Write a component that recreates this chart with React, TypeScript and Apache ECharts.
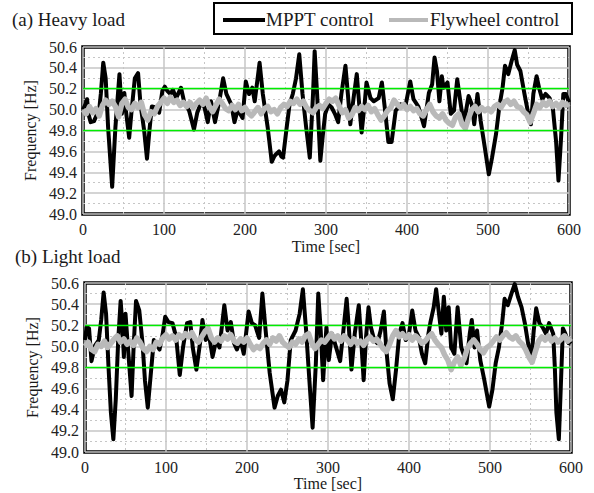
import React, { useEffect, useRef } from "react";
import * as echarts from "echarts";

// ---------- (a) Heavy load ----------
const heavyMpptTime = [
  0, 3, 5, 7, 9.5, 13.6, 17, 20, 22, 25, 28, 31, 36, 40, 45, 48, 51, 53, 57, 60,
  64, 68, 71, 75.5, 79, 82, 85, 90, 94, 98, 101, 104, 108, 111, 115, 118, 121, 125, 131, 137,
  141, 146, 150, 154, 158, 163, 168, 173, 177, 183, 187, 191, 197, 201, 205, 209, 212, 218, 222, 228,
  233, 236, 238, 242, 245, 247, 251, 255, 259, 263, 267, 271, 275.5, 280, 284, 286, 289, 293, 296, 299,
  303, 307, 311, 315, 319, 324, 327, 330, 334, 338, 341, 344, 348, 350, 355, 359, 365, 369, 373, 377,
  381, 386, 392, 398, 404, 408, 414, 421, 427, 431, 434, 437, 440, 443, 445, 450, 454, 458, 462, 466,
  470, 476, 480, 483, 487, 491, 496, 501, 505, 510, 514, 518, 521, 525, 529, 533, 536, 540, 545, 549,
  553, 556, 560, 563, 567, 571, 576, 580, 584, 587, 590, 593, 596, 600,
];
const heavyMpptFreq = [
  50.0, 50.05, 50.1, 49.95, 49.88, 49.89, 49.95, 50.0, 50.15, 50.45, 50.3, 49.83, 49.26, 49.83, 50.34, 49.96, 50.16, 49.99, 49.73, 49.99,
  50.3, 50.35, 50.05, 49.8, 49.53, 49.8, 50.03, 50.02, 49.97, 50.18, 50.22, 50.18, 50.15, 50.19, 50.11, 50.16, 50.21, 50.07, 49.99, 49.81,
  49.97, 50.07, 50.02, 49.88, 50.08, 49.88, 50.07, 50.3, 50.15, 50.05, 49.88, 50.0, 49.92, 50.27, 50.15, 50.21, 50.08, 50.45, 50.15, 49.83,
  49.5, 49.55, 49.57, 49.6, 49.55, 49.54, 49.8, 50.05, 50.15, 50.3, 50.53, 50.15, 49.83, 49.54, 50.15, 50.56, 50.15, 49.51, 49.75, 49.96,
  50.05, 50.02, 49.96, 49.88, 50.15, 50.42, 50.15, 49.86, 50.11, 50.34, 50.05, 49.78, 50.08, 50.26, 50.11, 50.08, 50.11, 50.26, 49.99, 49.69,
  49.69, 49.99, 50.05, 50.03, 50.27, 50.1, 50.03, 49.84, 50.16, 50.24, 50.5, 50.37, 50.08, 50.32, 50.21, 50.26, 49.96, 49.99, 50.29, 50.07,
  49.86, 50.13, 50.05, 49.86, 50.15, 49.89, 49.64, 49.38, 49.54, 49.77, 50.03, 50.21, 50.42, 50.34, 50.46, 50.57, 50.43, 50.37, 50.15, 49.99,
  49.86, 50.15, 50.32, 50.21, 50.1, 50.15, 50.11, 50.02, 49.7, 49.32, 49.7, 50.15, 50.15, 50.07,
];
// flywheel sampled every 4 s
const heavyFlywheelFreq = [
  50.0, 49.96, 50.03, 49.97, 50.01, 49.94, 50.04, 50.09, 50.05, 50.08, 50.03, 49.93, 50.06, 50.1, 50.02, 50.0, 50.06, 50.02, 50.07, 49.95,
  49.9, 49.98, 49.96, 50.03, 50.07, 50.11, 50.06, 50.12, 50.07, 50.09, 50.04, 50.07, 50.03, 50.07, 50.02, 50.06, 50.09, 50.05, 50.11, 50.03,
  49.98, 50.04, 50.1, 50.06, 50.01, 49.99, 50.04, 50.0, 50.05, 49.99, 50.02, 49.97, 49.94, 49.98, 50.02, 49.96, 50.01, 50.03, 49.98, 50.0,
  49.96, 50.02, 50.05, 50.03, 50.08, 50.06, 50.1, 50.05, 50.08, 50.02, 49.99, 49.97, 50.02, 50.04, 50.01, 50.06, 50.1, 50.08, 50.11, 50.04,
  49.97, 50.0, 49.92, 49.95, 50.02, 49.99, 50.03, 50.0, 50.04, 49.98, 50.01, 49.95, 49.9, 49.94, 49.99, 50.02, 50.09, 50.05, 50.02, 50.05,
  50.0, 50.03, 49.99, 50.01, 49.96, 49.94, 50.0, 50.05, 49.98, 49.94, 49.92, 49.96, 49.9, 49.87, 49.85, 49.93, 49.96, 49.86, 49.82, 49.92,
  50.0, 50.03, 49.98, 50.02, 49.99, 50.01, 49.98, 50.03, 50.05, 50.02, 50.07, 50.09, 50.05, 50.08, 50.03, 50.02, 49.98, 49.95, 49.88, 49.96,
  50.05, 50.02, 50.07, 50.04, 50.08, 50.03, 50.06, 50.02, 50.07, 50.04, 50.06,
];

// ---------- (b) Light load ----------
const lightMpptTime = [
  0, 2, 5, 8, 12.5, 17, 20, 23, 26, 29, 32, 35, 38, 41, 44, 46, 48, 50, 53, 57.5,
  60, 63, 67, 71, 74, 77.5, 81, 85, 92, 96, 99, 103, 108, 112.5, 117, 121, 126, 130, 133, 137.5,
  142, 145, 149, 153, 157.5, 162, 166, 172, 176, 180, 184, 187.5, 192, 196, 202, 206, 210, 215, 219, 223,
  228, 234, 238, 242, 246, 250, 254, 260, 265, 269, 273, 277, 281, 285, 288, 291, 294, 298, 301, 305,
  310, 315, 319, 323, 326, 329, 333, 338, 341, 344, 347, 350, 353, 357, 361, 365, 369, 372, 376, 380,
  384, 388, 392, 396, 400, 404, 408, 412, 416, 420, 424, 426.5, 430.5, 433.5, 437, 440, 443, 446, 449, 452,
  456, 460, 464.5, 468.5, 471, 475, 477.5, 481, 484, 488, 493, 499, 503, 507, 511, 515, 518, 522, 526.5, 530.5,
  534.5, 539, 543, 547, 551, 554, 557, 561, 565, 569, 573, 578, 580, 582, 585, 587, 590, 593, 597, 600,
];
const lightMpptFreq = [
  50.06, 50.18, 50.17, 49.86, 50.01, 50.06, 50.25, 50.51, 50.31, 49.81, 49.37, 49.12, 49.5, 50.06, 50.43, 50.22, 49.9, 50.31, 49.99, 49.53,
  49.99, 50.43, 50.34, 50.03, 49.68, 49.42, 49.72, 50.06, 49.97, 50.12, 50.28, 50.23, 50.22, 50.09, 49.73, 49.99, 50.22, 50.23, 49.99, 49.78,
  50.03, 50.25, 50.06, 50.11, 49.9, 50.06, 49.99, 50.39, 50.15, 50.23, 50.03, 49.97, 50.06, 49.93, 50.33, 50.22, 50.2, 50.08, 50.5, 50.15,
  49.75, 49.42, 49.53, 49.59, 49.47, 49.68, 50.06, 50.15, 50.31, 50.54, 50.15, 49.68, 49.23, 49.84, 50.5, 50.15, 49.68, 50.18, 49.87, 50.12,
  49.99, 49.86, 50.15, 50.45, 50.15, 49.78, 50.12, 50.39, 50.06, 49.68, 50.09, 50.37, 50.18, 50.06, 50.03, 50.15, 50.33, 49.97, 49.65, 49.5,
  49.78, 50.12, 50.22, 50.06, 50.12, 50.34, 50.15, 50.09, 49.93, 49.84, 50.12, 50.23, 50.37, 50.54, 50.31, 50.12, 50.47, 50.15, 50.37, 49.99,
  49.93, 50.37, 49.99, 49.9, 49.84, 50.12, 50.25, 49.99, 50.15, 49.87, 49.68, 49.43, 49.59, 49.84, 49.99, 50.22, 50.45, 50.39, 50.5, 50.59,
  50.47, 50.37, 50.22, 50.03, 49.87, 50.15, 50.36, 50.22, 50.18, 50.12, 50.22, 50.12, 49.81, 49.37, 49.12, 49.53, 50.17, 50.12, 50.03, 50.05,
];
const lightFlywheelFreq = [
  50.0, 50.04, 49.97, 49.95, 50.02, 50.0, 50.05, 49.99, 50.03, 50.07, 50.1, 50.04, 50.07, 50.02, 50.05, 50.01, 50.08, 50.04, 49.98, 49.95,
  50.0, 49.97, 50.04, 50.02, 50.08, 50.11, 50.07, 50.1, 50.06, 50.11, 50.08, 50.12, 50.09, 50.13, 50.07, 50.04, 50.09, 50.14, 50.17, 50.08,
  50.04, 50.08, 50.05, 50.1, 50.07, 50.11, 50.05, 50.03, 50.07, 50.04, 50.08, 50.02, 49.97, 50.0, 49.98, 50.03, 50.06, 50.02, 50.08, 50.05,
  50.1, 50.04, 50.01, 49.99, 50.04, 50.02, 50.07, 50.04, 50.1, 50.12, 50.03, 49.98, 50.02, 50.06, 50.04, 50.08, 50.12, 50.07, 50.1, 50.05,
  50.1, 50.06, 50.02, 50.07, 50.03, 50.05, 50.01, 50.06, 50.09, 50.05, 50.07, 50.03, 49.98, 49.95, 50.02, 50.1, 50.15, 50.09, 50.12, 50.08,
  50.11, 50.06, 50.1, 50.07, 50.03, 50.05, 50.09, 50.12, 50.06, 50.02, 49.99, 49.92, 49.87, 49.78, 49.85, 49.9, 49.82, 49.88, 49.98, 50.03,
  50.06, 50.02, 49.97, 49.94, 49.99, 50.01, 50.05, 50.09, 50.06, 50.1, 50.13, 50.09, 50.07, 50.1, 50.05, 50.02, 49.97, 49.9, 49.85, 49.95,
  50.05, 50.09, 50.06, 50.1, 50.05, 50.08, 50.04, 50.07, 50.1, 50.05, 50.08,
];

const flywheelStep = 4; // sampling period [sec]
const limitLines = [49.8, 50.2];
const panelTitles = ["(a) Heavy load", "(b) Light load"];
const legendNames = ["MPPT control", "Flywheel control"];

const FONT = "'Liberation Serif', 'Times New Roman', 'DejaVu Serif', serif";
const BLACK = "#000000";
const GREY = "#b9b9b9";
const GRID_C = "#c6c6c6";

const zip = (xs: number[], ys: number[]) => ys.map((y, i) => [xs[i], y]);
const stepZip = (ys: number[], step: number) => ys.map((y, i) => [i * step, y]);

function xAxisCfg(gridIndex: number, nameGap: number) {
  return {
    type: "value",
    gridIndex,
    min: 0,
    max: 600,
    interval: 100,
    name: "Time [sec]",
    nameLocation: "middle",
    nameGap,
    nameTextStyle: { fontFamily: FONT, fontSize: 16, color: "#1a1a1a" },
    axisLine: { show: false },
    axisTick: { show: false },
    axisLabel: { fontFamily: FONT, fontSize: 16, color: "#222", margin: 7 },
    splitLine: { show: true, lineStyle: { color: GRID_C, width: 1.5 } },
    minorTick: { show: false, splitNumber: 2 },
    minorSplitLine: { show: true, lineStyle: { color: GRID_C, width: 1, type: [2, 3] } },
  };
}

function yAxisCfg(gridIndex: number) {
  return {
    type: "value",
    gridIndex,
    min: 49.0,
    max: 50.6,
    interval: 0.2,
    name: "Frequency [Hz]",
    nameLocation: "middle",
    nameGap: 43,
    nameTextStyle: { fontFamily: FONT, fontSize: 16, color: "#1a1a1a" },
    axisLine: { show: false },
    axisTick: { show: false },
    axisLabel: {
      fontFamily: FONT,
      fontSize: 16,
      color: "#222",
      margin: 6,
      formatter: (v: number) => v.toFixed(1),
    },
    splitLine: { show: true, lineStyle: { color: GRID_C, width: 1.5 } },
    minorTick: { show: false, splitNumber: 2 },
    minorSplitLine: { show: true, lineStyle: { color: GRID_C, width: 1, type: [2, 3] } },
  };
}

function seriesFor(idx: number, mppt: number[][], fly: number[][]) {
  return [
    {
      name: legendNames[0],
      type: "line",
      xAxisIndex: idx,
      yAxisIndex: idx,
      data: mppt,
      showSymbol: false,
      symbol: "none",
      lineStyle: { color: BLACK, width: 4, join: "round" },
      z: 3,
    },
    {
      name: legendNames[1],
      type: "line",
      xAxisIndex: idx,
      yAxisIndex: idx,
      data: fly,
      showSymbol: false,
      symbol: "none",
      lineStyle: { color: GREY, width: 5.5, join: "round" },
      z: 4,
      markLine: {
        silent: true,
        symbol: ["none", "none"],
        label: { show: false },
        lineStyle: { color: "#00ee00", width: 1.3, type: "solid" },
        data: limitLines.map((v) => ({ yAxis: v })),
        z: 5,
      },
    },
  ];
}

export default function App() {
  const ref = useRef<HTMLDivElement>(null);
  useEffect(() => {
    if (!ref.current) return;
    const chart = echarts.init(ref.current, null, { renderer: "svg" });
    const option = {
      animation: false,
      backgroundColor: "#ffffff",
      grid: [
        { left: 83, right: 25, top: 47, height: 167, show: true, borderColor: "#000", borderWidth: 3.5, backgroundColor: "transparent" },
        { left: 85, right: 23, top: 283, height: 169, show: true, borderColor: "#000", borderWidth: 3.5, backgroundColor: "transparent" },
      ],
      xAxis: [xAxisCfg(0, 24), xAxisCfg(1, 22)],
      yAxis: [yAxisCfg(0), yAxisCfg(1)],
      series: [
        ...seriesFor(0, zip(heavyMpptTime, heavyMpptFreq), stepZip(heavyFlywheelFreq, flywheelStep)),
        ...seriesFor(1, zip(lightMpptTime, lightMpptFreq), stepZip(lightFlywheelFreq, flywheelStep)),
      ],
      graphic: [
        {
          type: "text",
          left: 12,
          top: 10,
          style: { text: panelTitles[0], fontFamily: FONT, fontSize: 19, fill: "#1a1a1a" },
        },
        {
          type: "text",
          left: 15,
          top: 247,
          style: { text: panelTitles[1], fontFamily: FONT, fontSize: 19, fill: "#1a1a1a" },
        },
        {
          type: "rect",
          shape: { x: 214, y: 3, width: 358, height: 31 },
          style: { fill: "#fff", stroke: "#000", lineWidth: 2 },
          z: 10,
        },
        {
          type: "line",
          shape: { x1: 223, y1: 20, x2: 265, y2: 20 },
          style: { stroke: BLACK, lineWidth: 4 },
          z: 11,
        },
        {
          type: "text",
          x: 266,
          y: 19.5,
          style: { text: legendNames[0], fontFamily: FONT, fontSize: 19, fill: "#1a1a1a", verticalAlign: "middle" },
          z: 11,
        },
        {
          type: "line",
          shape: { x1: 389, y1: 20, x2: 428, y2: 20 },
          style: { stroke: GREY, lineWidth: 4 },
          z: 11,
        },
        {
          type: "text",
          x: 430,
          y: 19.5,
          style: { text: legendNames[1], fontFamily: FONT, fontSize: 19, fill: "#1a1a1a", verticalAlign: "middle" },
          z: 11,
        },
      ],
    };
    chart.setOption(option as any);
    return () => chart.dispose();
  }, []);
  return (
    <div
      ref={ref}
      style={{ position: "absolute", left: 0, top: 0, width: 594, height: 493, background: "#fff" }}
    />
  );
}
